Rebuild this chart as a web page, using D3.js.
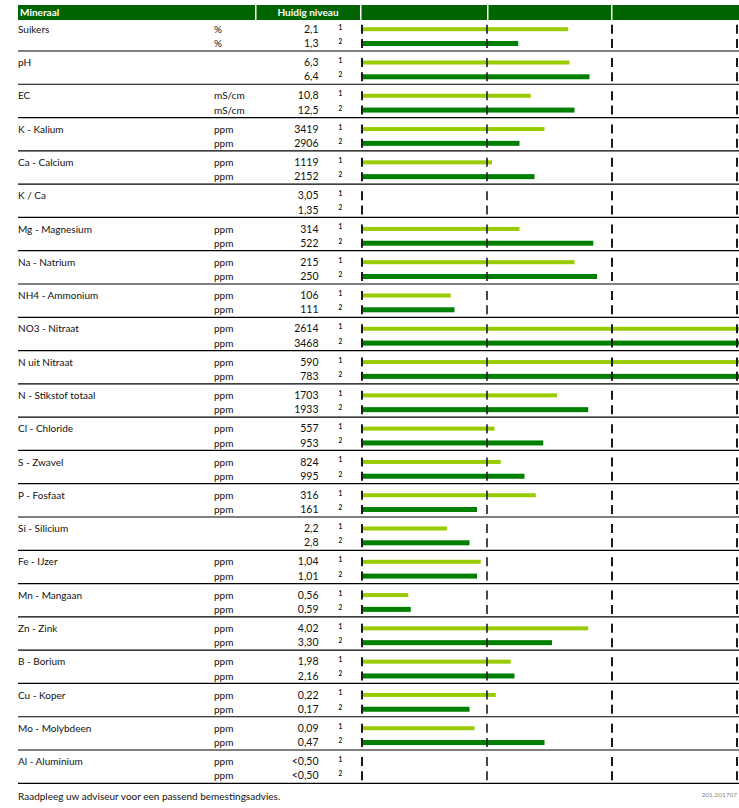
<!DOCTYPE html>
<html>
<head>
<meta charset="utf-8">
<script src="https://cdn.jsdelivr.net/npm/d3@7"></script>
<style>
  html, body { margin: 0; padding: 0; background: #fff; }
  svg { display: block; }
  text { font-family: Lato, "Open Sans", sans-serif; }
</style>
</head>
<body>
<div id="chart"></div>
<script>
// ---- data ----
const minerals = ["Suikers","pH","EC","K - Kalium","Ca - Calcium","K / Ca","Mg - Magnesium","Na - Natrium",
  "NH4 - Ammonium","NO3 - Nitraat","N uit Nitraat","N - Stikstof totaal","Cl - Chloride","S - Zwavel",
  "P - Fosfaat","Si - Silicium","Fe - IJzer","Mn - Mangaan","Zn - Zink","B - Borium","Cu - Koper",
  "Mo - Molybdeen","Al - Aluminium"];
const units = ["%","","mS/cm","ppm","ppm","","ppm","ppm","ppm","ppm","ppm","ppm","ppm","ppm","ppm","","ppm","ppm","ppm","ppm","ppm","ppm","ppm"];
const labels1 = ["2,1","6,3","10,8","3419","1119","3,05","314","215","106","2614","590","1703","557","824","316","2,2","1,04","0,56","4,02","1,98","0,22","0,09","<0,50"];
const labels2 = ["1,3","6,4","12,5","2906","2152","1,35","522","250","111","3468","783","1933","953","995","161","2,8","1,01","0,59","3,30","2,16","0,17","0,47","<0,50"];
// bar lengths on the relative scale (0..3, reference marks at 0,1,2,3)
const level1 = [1.65,1.66,1.35,1.46,1.04,null,1.26,1.70,0.71,3.2,3.2,1.56,1.06,1.11,1.39,0.68,0.95,0.37,1.81,1.19,1.07,0.90,null];
const level2 = [1.25,1.82,1.70,1.26,1.38,null,1.85,1.88,0.74,3.2,3.2,1.81,1.45,1.30,0.92,0.86,0.92,0.39,1.52,1.22,0.86,1.46,null];
const refMarks = [0,1,2,3];
const headerLabels = ["Mineraal","Huidig niveau"];
const footerText = "Raadpleeg uw adviseur voor een passend bemestingsadvies.";
const footerCode = "201.201707";

// ---- layout ----
const W = 739, H = 808;
const svg = d3.select("#chart").append("svg").attr("width", W).attr("height", H);

const y = d3.scaleBand().domain(minerals).range([17.7, 783.3]);
const x = d3.scaleLinear().domain([0, 3]).range([362, 737]);
const lightGreen = "#99cc00", darkGreen = "#008000", headerGreen = "#006400";
const fs = 10;

// header
svg.append("rect").attr("x", 18).attr("y", 5).attr("width", W - 18).attr("height", 15).attr("fill", headerGreen);
[256, 361, 488, 612].forEach(sx => {
  svg.append("rect").attr("x", sx - 1).attr("y", 5).attr("width", 1.5).attr("height", 15).attr("fill", "#fff");
});
svg.append("text").attr("x", 20).attr("y", 16.3).attr("fill", "#fff").attr("font-weight", "bold")
  .attr("font-size", fs).text(headerLabels[0]);
svg.append("text").attr("x", 308).attr("y", 16.3).attr("fill", "#fff").attr("font-weight", "bold")
  .attr("font-size", fs).attr("text-anchor", "middle").text(headerLabels[1]);

const rows = minerals.map((m, i) => ({ m, i, unit: units[i], l1: labels1[i], l2: labels2[i], v1: level1[i], v2: level2[i] }));
const g = svg.selectAll("g.grp").data(rows).join("g").attr("class", "grp")
  .attr("transform", d => `translate(0,${y(d.m)})`);

const off1 = 11.5, off2 = 25.8;

// separator line at bottom of each group
g.append("line").attr("x1", 18).attr("x2", W).attr("y1", y.bandwidth()).attr("y2", y.bandwidth())
  .attr("stroke", "#000").attr("stroke-width", 1.2);

// text columns
g.append("text").attr("x", 18).attr("y", off1 + 3.6).attr("font-size", fs).attr("fill", "#111").text(d => d.m);
[ [off1, "l1", "1"], [off2, "l2", "2"] ].forEach(([oy, key, sup]) => {
  g.append("text").attr("x", 214).attr("y", oy + 3.6).attr("font-size", fs).attr("fill", "#111").text(d => d.unit);
  g.append("text").attr("x", 318.5).attr("y", oy + 3.6).attr("font-size", fs + 0.5).attr("fill", "#111")
    .attr("text-anchor", "end").text(d => d[key]);
  g.append("text").attr("x", 338.5).attr("y", oy + 0.5).attr("font-size", 6.5).attr("font-weight", "bold")
    .attr("fill", "#111").text(sup);
});

// bars
g.filter(d => d.v1 != null).append("rect").attr("x", x(0)).attr("y", off1 - 2)
  .attr("width", d => x(d.v1) - x(0)).attr("height", 4).attr("fill", lightGreen);
g.filter(d => d.v2 != null).append("rect").attr("x", x(0)).attr("y", off2 - 2.5)
  .attr("width", d => x(d.v2) - x(0)).attr("height", 5).attr("fill", darkGreen);

// reference marks
[off1, off2].forEach(oy => {
  refMarks.forEach(r => {
    g.append("line").attr("x1", x(r)).attr("x2", x(r)).attr("y1", oy - 4.5).attr("y2", oy + 4.5)
      .attr("stroke", "#1a1a1a").attr("stroke-width", r === 1 ? 1.6 : 2);
  });
});

// footer
svg.append("text").attr("x", 18).attr("y", 800).attr("font-size", fs).attr("fill", "#111").text(footerText);
svg.append("text").attr("x", 737).attr("y", 797).attr("font-size", 6.5).attr("fill", "#888")
  .attr("text-anchor", "end").text(footerCode);
</script>
</body>
</html>
